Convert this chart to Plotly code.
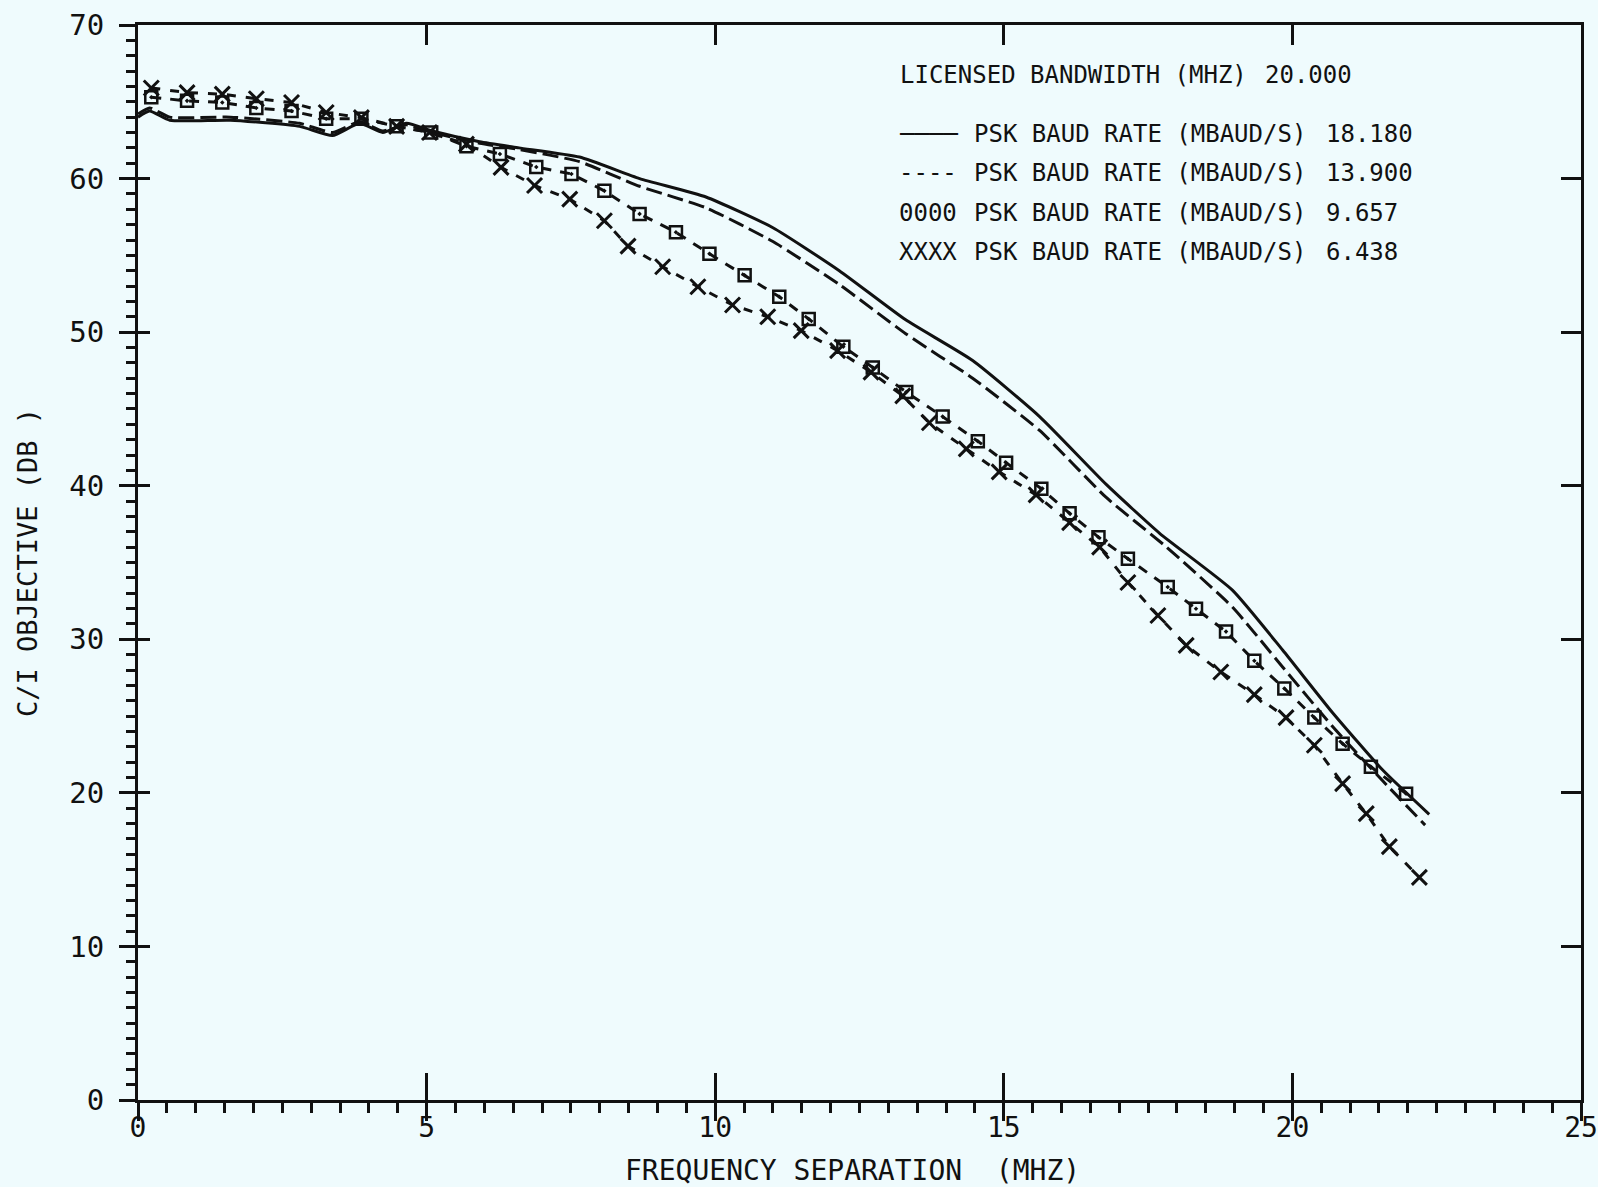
import plotly.graph_objects as go

# ---------------- data ----------------
x_1818 = [0.0, 0.2, 0.55, 1.6, 2.8, 3.37, 3.84, 4.24, 4.65, 5.1, 5.92, 6.6, 7.65, 8.69,
          9.84, 11.0, 12.15, 13.3, 14.46, 15.62, 16.77, 17.7, 18.96, 19.83, 20.7, 21.56, 22.37]
y_1818 = [64.0, 64.4, 63.8, 63.8, 63.4, 62.8, 63.6, 63.0, 63.6, 63.1, 62.4, 62.0, 61.4, 60.0,
          58.8, 56.8, 54.0, 50.8, 48.15, 44.5, 40.1, 36.9, 33.2, 29.3, 25.2, 21.5, 18.6]

x_1390 = [0.0, 0.2, 0.55, 1.6, 2.8, 3.37, 3.84, 4.24, 4.65, 5.1, 5.92, 6.6, 7.65, 8.69,
          9.84, 11.0, 12.15, 13.3, 14.46, 15.62, 16.77, 17.82, 18.96, 19.83, 20.7, 21.56, 22.3]
y_1390 = [64.2, 64.6, 64.0, 64.0, 63.6, 63.0, 63.7, 63.1, 63.5, 63.0, 62.3, 61.9, 61.1, 59.5,
          58.1, 55.9, 53.1, 49.9, 47.0, 43.6, 39.25, 36.0, 32.1, 28.2, 24.3, 20.8, 17.9]

x_9657 = [0.23, 0.85, 1.46, 2.05, 2.66, 3.26, 3.87, 4.48, 5.08, 5.69, 6.27, 6.9, 7.51, 8.08,
          8.69, 9.32, 9.9, 10.51, 11.11, 11.62, 12.22, 12.73, 13.31, 13.94, 14.55, 15.04,
          15.65, 16.14, 16.64, 17.15, 17.84, 18.33, 18.85, 19.34, 19.86, 20.38, 20.87, 21.36, 21.97]
y_9657 = [65.3, 65.06, 64.95, 64.6, 64.4, 63.9, 63.9, 63.4, 63.0, 62.1, 61.6, 60.75, 60.3, 59.2,
          57.7, 56.5, 55.1, 53.7, 52.3, 50.86, 49.05, 47.7, 46.1, 44.5, 42.9, 41.5,
          39.8, 38.2, 36.65, 35.24, 33.4, 31.99, 30.5, 28.6, 26.8, 24.9, 23.2, 21.7, 19.95]

x_6438 = [0.23, 0.85, 1.46, 2.05, 2.66, 3.26, 3.87, 4.48, 5.05, 5.69, 6.29, 6.87, 7.48, 8.08,
          8.49, 9.09, 9.7, 10.3, 10.91, 11.49, 12.12, 12.7, 13.25, 13.71, 14.35, 14.92, 15.56,
          16.14, 16.66, 17.15, 17.67, 18.16, 18.76, 19.34, 19.89, 20.38, 20.87, 21.28, 21.68, 22.2]
y_6438 = [65.9, 65.6, 65.5, 65.2, 64.95, 64.3, 63.97, 63.4, 63.0, 62.24, 60.73, 59.55, 58.66, 57.25,
          55.6, 54.26, 52.96, 51.77, 51.0, 50.1, 48.8, 47.4, 45.85, 44.1, 42.4, 40.9, 39.4,
          37.6, 36.0, 33.7, 31.55, 29.6, 27.87, 26.4, 24.9, 23.1, 20.6, 18.65, 16.5, 14.5]

x_major = [0, 5, 10, 15, 20, 25]
y_major = [0, 10, 20, 30, 40, 50, 60, 70]
x_inner = [5, 10, 15, 20]
y_right = [10, 20, 30, 40, 50, 60]

x_title = "FREQUENCY SEPARATION  (MHZ)"
y_title = "C/I OBJECTIVE (DB )"
header_text = "LICENSED BANDWIDTH (MHZ)"
header_value = "20.000"
legend_prefix = ["────", "----", "0000", "XXXX"]
legend_label = "PSK BAUD RATE (MBAUD/S)"
legend_values = ["18.180", "13.900", "9.657", "6.438"]

# ---------------- style ----------------
INK = "#111111"
BG = "#effbfd"
FONT = "DejaVu Sans Mono"
W, H = 1598, 1187
ML, MR, MT, MB = 138, 17, 25, 87

fig = go.Figure()

fig.add_trace(go.Scatter(x=x_1818, y=y_1818, mode="lines", name="18.180",
                         line=dict(color=INK, width=3, shape="spline", smoothing=0.5)))
fig.add_trace(go.Scatter(x=x_1390, y=y_1390, mode="lines", name="13.900",
                         line=dict(color=INK, width=3, dash="16px,6px", shape="spline", smoothing=0.5)))
fig.add_trace(go.Scatter(x=x_9657, y=y_9657, mode="lines+markers", name="9.657",
                         line=dict(color=INK, width=3, dash="10px,9px"),
                         marker=dict(symbol="square-open-dot", size=12, color=INK,
                                     line=dict(color=INK, width=2.5))))
fig.add_trace(go.Scatter(x=x_6438, y=y_6438, mode="lines+markers", name="6.438",
                         line=dict(color=INK, width=3, dash="9px,10px"),
                         marker=dict(symbol="x-thin", size=15, color=INK,
                                     line=dict(color=INK, width=3))))

tick_only = dict(showticklabels=False, showline=False, showgrid=False, zeroline=False,
                 automargin=False, tickwidth=3, tickcolor=INK)

# ---------------- axes ----------------
fig.update_layout(
    width=W, height=H,
    margin=dict(l=ML, r=MR, t=MT, b=MB, autoexpand=False),
    paper_bgcolor=BG, plot_bgcolor=BG,
    showlegend=False,
    font=dict(family=FONT, color=INK),
    xaxis=dict(range=[0, 25], tickvals=x_major, ticktext=[str(v) for v in x_major],
               ticks="inside", ticklen=24, tickwidth=3, tickcolor=INK,
               minor=dict(dtick=0.5, tick0=0, ticks="outside", ticklen=10, tickwidth=3, tickcolor=INK),
               showline=True, linewidth=3, linecolor=INK, mirror=True,
               showgrid=False, zeroline=False, automargin=False,
               ticklabeloverflow="allow",
               tickfont=dict(family=FONT, size=28, color=INK), ticklabelstandoff=0),
    xaxis2=dict(range=[0, 25], overlaying="x", anchor="y", side="bottom",
                tickvals=x_major, ticks="outside", ticklen=20, **tick_only),
    xaxis3=dict(range=[0, 25], overlaying="x", anchor="y", side="top",
                tickvals=x_inner, ticks="inside", ticklen=20, **tick_only),
    xaxis4=dict(range=[0, 25], overlaying="x", anchor="y", side="bottom",
                tickvals=x_inner, ticks="inside", ticklen=27, **tick_only),
    yaxis=dict(range=[0, 70], tickvals=y_major, ticktext=[str(v) for v in y_major],
               ticks="inside", ticklen=12, tickwidth=3, tickcolor=INK,
               minor=dict(dtick=1, tick0=0, ticks="outside", ticklen=9, tickwidth=3, tickcolor=INK),
               showline=True, linewidth=3, linecolor=INK, mirror=True,
               showgrid=False, zeroline=False, automargin=False,
               ticklabeloverflow="allow",
               tickfont=dict(family=FONT, size=29, color=INK), ticklabelstandoff=25,
               title=dict(text=y_title, standoff=24,
                          font=dict(family=FONT, size=27, color=INK))),
    yaxis2=dict(range=[0, 70], overlaying="y", anchor="x", side="left",
                tickvals=y_major, ticks="outside", ticklen=18, **tick_only),
    yaxis3=dict(range=[0, 70], overlaying="y", anchor="x", side="right",
                tickvals=y_right, ticks="inside", ticklen=20, **tick_only),
)

# invisible traces so the overlay axes are drawn
fig.add_trace(go.Scatter(x=[None], y=[None], xaxis="x2", yaxis="y2", showlegend=False))
fig.add_trace(go.Scatter(x=[None], y=[None], xaxis="x3", yaxis="y3", showlegend=False))
fig.add_trace(go.Scatter(x=[None], y=[None], xaxis="x4", yaxis="y", showlegend=False))

# ---------------- texts (as in the plotter output) ----------------
def px_x(px):
    return (px - ML) / (W - ML - MR)

def px_y(py):
    return 1 - (py - MT) / (H - MT - MB)

fig.add_annotation(x=px_x(852), y=px_y(1170), xref="paper", yref="paper", text=x_title,
                   showarrow=False, xanchor="center", yanchor="middle",
                   font=dict(family=FONT, size=28, color=INK))

LEG = dict(family=FONT, size=24, color=INK)
fig.add_annotation(x=px_x(898), y=px_y(75), xref="paper", yref="paper", text=header_text,
                   showarrow=False, xanchor="left", yanchor="middle", font=LEG)
fig.add_annotation(x=px_x(1263), y=px_y(75), xref="paper", yref="paper", text=header_value,
                   showarrow=False, xanchor="left", yanchor="middle", font=LEG)

row_y = [134, 173, 213, 252]
for pre, val, ry in zip(legend_prefix, legend_values, row_y):
    fig.add_annotation(x=px_x(897), y=px_y(ry), xref="paper", yref="paper", text=pre,
                       showarrow=False, xanchor="left", yanchor="middle", font=LEG)
    fig.add_annotation(x=px_x(972), y=px_y(ry), xref="paper", yref="paper", text=legend_label,
                       showarrow=False, xanchor="left", yanchor="middle", font=LEG)
    fig.add_annotation(x=px_x(1324), y=px_y(ry), xref="paper", yref="paper", text=val,
                       showarrow=False, xanchor="left", yanchor="middle", font=LEG)

fig.write_html("out.html")
